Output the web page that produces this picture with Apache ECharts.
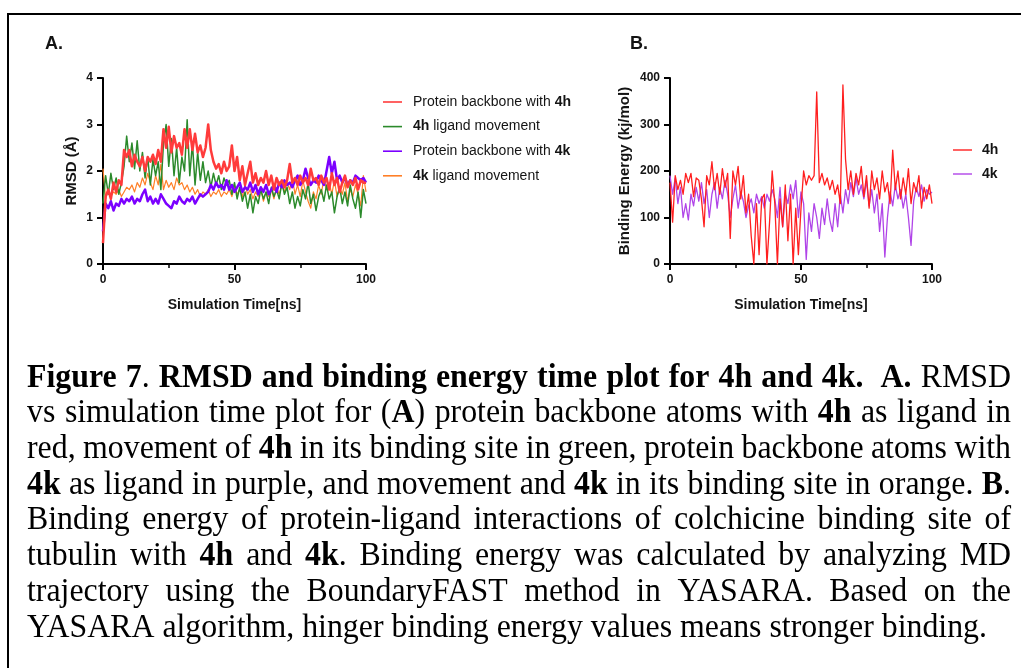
<!DOCTYPE html>
<html>
<head>
<meta charset="utf-8">
<script src="https://cdn.jsdelivr.net/npm/echarts@6/dist/echarts.min.js"></script>
<style>
  html, body { margin: 0; padding: 0; background: #fff; overflow: hidden; }
  #frame { position: absolute; left: 7px; top: 13px; width: 1100px; height: 800px; border: 2px solid #000; box-sizing: border-box; }
  #chart { position: absolute; left: 0; top: 0; width: 1021px; height: 668px; }
</style>
</head>
<body>
<div id="frame"></div>
<div id="chart"></div>
<script>
// Sampling: one frame per ns, 0..100 ns
const timeStepNs = 1;
const sampleCount = 101;

// Panel A: RMSD (Å)
const rmsdBackbone4h = [0.45,1.45,1.6,1.4,1.75,1.55,1.8,1.7,2.45,2.3,2.45,2.1,2.35,2.2,2.1,2.3,2.0,2.3,2.2,2.35,
  2.15,2.45,2.2,2.9,2.5,2.95,2.4,2.75,2.5,2.6,2.35,2.9,2.5,2.9,2.45,2.8,2.4,2.55,2.3,2.5,
  3.0,2.45,2.2,2.05,2.15,1.95,2.2,2.0,2.1,2.55,2.0,2.3,1.8,2.1,1.7,1.95,2.2,1.75,1.95,1.7,
  1.85,1.75,2.0,1.7,1.9,1.6,1.85,1.7,1.8,1.65,1.8,2.15,1.75,1.85,1.7,1.9,1.75,1.85,1.7,2.05,
  1.8,1.85,1.7,1.9,1.75,1.85,1.6,1.95,1.7,1.85,1.55,1.75,1.9,1.65,1.8,1.7,1.85,1.6,1.8,1.75,1.75];
const rmsdLigand4h = [1.3,1.9,1.5,1.95,1.6,1.85,1.5,1.75,2.1,2.75,2.2,2.6,2.05,2.65,2.0,2.4,1.85,2.3,1.7,2.25,
  1.9,2.2,1.6,2.6,3.0,2.1,2.7,1.9,2.5,1.75,2.3,2.0,3.1,1.9,2.6,1.7,2.4,1.8,2.2,1.75,
  2.0,1.65,1.95,1.7,1.9,1.6,1.85,1.7,1.8,1.5,1.75,1.4,1.65,1.35,1.55,1.2,1.5,1.1,1.45,1.3,
  1.6,1.4,1.55,1.3,1.65,1.45,1.6,1.4,1.75,1.5,1.65,1.3,1.55,1.2,1.45,1.25,1.6,1.4,1.75,1.3,
  1.5,1.15,1.45,1.6,1.35,1.7,1.4,1.55,1.1,1.45,1.65,1.3,1.55,1.25,1.7,1.4,1.2,1.55,1.0,1.6,1.3];
const rmsdBackbone4k = [0.7,1.3,1.2,1.35,1.15,1.3,1.25,1.4,1.3,1.4,1.35,1.45,1.3,1.4,1.35,1.5,1.6,1.35,1.45,1.3,
  1.4,1.3,1.5,1.4,1.3,1.25,1.2,1.35,1.3,1.45,1.35,1.3,1.4,1.35,1.45,1.3,1.4,1.5,1.45,1.5,
  1.55,1.7,1.6,1.75,1.65,1.7,1.6,1.8,1.6,1.7,1.55,1.65,1.75,1.55,1.65,1.6,1.75,1.55,1.7,1.5,
  1.65,1.55,1.7,1.5,1.6,1.7,1.55,1.75,1.65,1.8,1.7,1.75,1.65,1.8,1.9,1.7,1.8,2.05,1.85,1.7,
  1.8,1.75,1.9,1.8,1.7,2.0,2.3,1.95,2.2,1.8,1.9,1.75,1.85,1.7,1.8,1.75,1.9,1.85,1.8,1.85,1.75];
const rmsdLigand4k = [2.05,1.4,1.6,1.45,1.55,1.5,1.6,1.45,1.55,1.65,1.6,1.7,1.55,1.75,1.65,1.85,1.7,1.95,1.75,1.6,
  1.9,1.7,2.15,1.6,1.8,1.65,1.75,1.6,1.85,1.7,1.75,1.6,1.7,1.55,1.65,1.5,1.6,1.45,1.55,1.5,
  1.6,1.45,1.55,1.5,1.6,1.45,1.55,1.5,1.6,1.45,1.65,1.5,1.6,1.45,1.7,1.5,1.6,1.4,1.55,1.45,
  1.6,1.35,1.55,1.45,1.6,1.4,1.65,1.5,1.7,1.55,1.75,1.6,1.85,1.5,1.7,1.45,1.8,1.55,1.35,1.2,
  1.55,1.4,1.7,1.5,1.85,1.6,1.75,1.5,1.8,1.45,1.65,1.5,1.75,1.35,1.6,1.45,1.7,1.5,1.25,1.9,1.55];

// Panel B: binding energy (kj/mol)
const energy4h = [175,90,190,160,180,150,195,175,195,145,185,180,140,80,190,170,220,160,195,150,
  205,165,195,55,200,170,210,140,190,110,150,60,0,130,20,140,150,0,90,200,
  130,0,140,80,170,50,150,0,120,20,120,200,170,190,180,190,370,175,195,170,
  185,160,180,150,170,130,385,225,160,200,150,195,170,210,145,190,120,200,160,185,
  140,200,155,175,130,245,160,200,140,185,150,205,130,175,155,190,120,165,140,170,130];
const energy4k = [190,150,185,130,165,100,130,95,150,125,165,135,175,130,160,100,150,175,120,165,
  140,180,150,100,140,170,120,155,135,100,125,140,110,150,130,145,120,150,135,160,
  140,100,165,80,150,130,170,140,180,100,155,130,10,110,70,130,100,55,120,85,
  140,95,70,130,80,150,110,160,130,175,145,185,150,170,140,180,125,160,110,150,
  70,130,15,100,155,125,170,140,160,120,150,100,40,135,165,145,170,135,160,150,155];

// Axis ticks and labels
const timeTicks = { min: 0, max: 100, interval: 50 };
const rmsdTicks = { min: 0, max: 4, interval: 1 };
const energyTicks = { min: 0, max: 400, interval: 100 };
const legendNamesA = ['Protein backbone with 4h', '4h ligand movement', 'Protein backbone with 4k', '4k ligand movement'];
const legendNamesB = ['4h', '4k'];

// Figure caption (<b> marks bold runs)
const captionLines = [
  '<b>Figure 7</b>. <b>RMSD and binding energy time plot for 4h and 4k.\u00a0</b> <b>A.</b> RMSD',
  'vs simulation time plot for (<b>A</b>) protein backbone atoms with <b>4h</b> as ligand in',
  'red, movement of <b>4h</b> in its binding site in green, protein backbone atoms with',
  '<b>4k</b> as ligand in purple, and movement and <b>4k</b> in its binding site in orange. <b>B</b>.',
  'Binding energy of protein-ligand interactions of colchicine binding site of',
  'tubulin with <b>4h</b> and <b>4k</b>. Binding energy was calculated by analyzing MD',
  'trajectory using the BoundaryFAST method in YASARA. Based on the',
  'YASARA algorithm, hinger binding energy values means stronger binding.'
];

const timeNs = Array.from({ length: sampleCount }, (_, i) => i * timeStepNs);
const pairs = vals => vals.map((v, i) => [timeNs[i], v]);

const FONT = '"Liberation Sans", Arial, sans-serif';
const SERIF = '"Liberation Serif", "Times New Roman", serif';
const INK = '#141414';

function xAxisCfg(grid) {
  return {
    type: 'value', gridIndex: grid, min: timeTicks.min, max: timeTicks.max, interval: timeTicks.interval,
    name: 'Simulation Time[ns]', nameLocation: 'middle', nameGap: 34,
    nameTextStyle: { fontFamily: FONT, fontWeight: 'bold', fontSize: 14, color: INK },
    axisLine: { onZero: false, lineStyle: { color: '#000', width: 2 } },
    axisTick: { length: 6, lineStyle: { color: '#000', width: 2 } },
    minorTick: { show: true, splitNumber: 2, length: 4, lineStyle: { color: '#000', width: 1.5 } },
    splitLine: { show: false }, minorSplitLine: { show: false },
    axisLabel: { fontFamily: FONT, fontWeight: 'bold', fontSize: 12, color: INK, margin: 10 }
  };
}
function yAxisCfg(grid, ticks, name, gap) {
  return {
    type: 'value', gridIndex: grid, min: ticks.min, max: ticks.max, interval: ticks.interval,
    name: name, nameLocation: 'middle', nameGap: gap,
    nameTextStyle: { fontFamily: FONT, fontWeight: 'bold', fontSize: 15, color: INK },
    axisLine: { show: true, lineStyle: { color: '#000', width: 2 } },
    axisTick: { show: true, length: 6, lineStyle: { color: '#000', width: 2 } },
    splitLine: { show: false },
    axisLabel: { fontFamily: FONT, fontWeight: 'bold', fontSize: 12, color: INK, margin: 10 }
  };
}
function lineSeries(name, grid, vals, color, width, z) {
  return {
    type: 'line', name: name, xAxisIndex: grid, yAxisIndex: grid, data: pairs(vals),
    showSymbol: false, symbol: 'none', animation: false, z: z,
    lineStyle: { color: color, width: width, join: 'round' }, itemStyle: { color: color }
  };
}

// Caption layout: words measured on a canvas, lines justified to the block width
const CAP = { left: 27, right: 1011, firstY: 378, lineStep: 35.7, size: 33, lastWidth: 960 };
const measureCtx = document.createElement('canvas').getContext('2d');
function capFont(bold) { return (bold ? 'bold ' : '') + CAP.size + 'px ' + SERIF; }
function textWidth(t, bold) { measureCtx.font = capFont(bold); return measureCtx.measureText(t).width; }
function parseWords(line) {
  const words = []; let runs = []; let buf = ''; let bold = false;
  const flush = () => { if (buf) { runs.push({ text: buf, bold: bold }); buf = ''; } };
  line.split(/(<b>|<\/b>| )/).forEach(tok => {
    if (tok === '<b>') { flush(); bold = true; }
    else if (tok === '</b>') { flush(); bold = false; }
    else if (tok === ' ') { flush(); if (runs.length) { words.push(runs); runs = []; } }
    else buf += tok;
  });
  flush(); if (runs.length) words.push(runs);
  words.forEach(w => { w.width = w.reduce((s, r) => s + textWidth(r.text, r.bold), 0); });
  return words;
}
function captionGraphics() {
  const lines = captionLines.map(parseWords);
  const spaceW = textWidth(' ', false);
  const last = lines[lines.length - 1];
  const lastNatural = last.reduce((s, w) => s + w.width, 0) + spaceW * (last.length - 1);
  const sx = CAP.lastWidth / lastNatural;
  const out = [];
  lines.forEach((words, li) => {
    const sum = words.reduce((s, w) => s + w.width * sx, 0);
    const gap = li < lines.length - 1 ? (CAP.right - CAP.left - sum) / (words.length - 1) : spaceW * sx;
    let x = CAP.left;
    const y = CAP.firstY + li * CAP.lineStep;
    words.forEach(w => {
      let rx = x;
      w.forEach(r => {
        out.push({
          type: 'text', x: rx, y: y, scaleX: sx, silent: true,
          style: { text: r.text, font: capFont(r.bold), fill: '#000', align: 'left', verticalAlign: 'middle' }
        });
        rx += textWidth(r.text, r.bold) * sx;
      });
      x += w.width * sx + gap;
    });
  });
  return out;
}

const chart = echarts.init(document.getElementById('chart'), null, { renderer: 'canvas' });
chart.setOption({
  backgroundColor: 'transparent',
  animation: false,
  grid: [
    { left: 103, top: 78, width: 263, height: 186 },
    { left: 670, top: 78, width: 262, height: 186 }
  ],
  xAxis: [xAxisCfg(0), xAxisCfg(1)],
  yAxis: [
    yAxisCfg(0, rmsdTicks, 'RMSD (Å)', 24),
    yAxisCfg(1, energyTicks, 'Binding Energy (kj/mol)', 38)
  ],
  legend: [
    {
      data: legendNamesA, orient: 'vertical', left: 378, top: 90,
      icon: 'rect', itemWidth: 19, itemHeight: 1.6, itemGap: 10.6,
      formatter: n => n.replace(/(4[hk])/, '{b|$1}'),
      textStyle: {
        fontFamily: FONT, fontSize: 14, lineHeight: 14, color: INK, padding: [0, 0, 0, 6],
        rich: { b: { fontFamily: FONT, fontSize: 14, lineHeight: 14, fontWeight: 'bold', color: INK } }
      }
    },
    {
      data: legendNamesB, orient: 'vertical', left: 948, top: 138,
      icon: 'rect', itemWidth: 19, itemHeight: 1.4, itemGap: 10,
      textStyle: { fontFamily: FONT, fontSize: 14, lineHeight: 14, fontWeight: 'bold', color: INK, padding: [0, 0, 0, 5] }
    }
  ],
  graphic: [
    { type: 'text', left: 45, top: 35, style: { text: 'A.', font: 'bold 18px ' + FONT, fill: INK } },
    { type: 'text', left: 630, top: 35, style: { text: 'B.', font: 'bold 18px ' + FONT, fill: INK } },
    { type: 'group', id: 'caption', children: captionGraphics() }
  ],
  series: [
    lineSeries(legendNamesA[3], 0, rmsdLigand4k, '#ff7f27', 1.2, 2),
    lineSeries(legendNamesA[1], 0, rmsdLigand4h, '#2b8a2b', 1.5, 3),
    lineSeries(legendNamesA[2], 0, rmsdBackbone4k, '#7b00ff', 2.5, 4),
    lineSeries(legendNamesA[0], 0, rmsdBackbone4h, '#ff3b3b', 2.5, 5),
    lineSeries(legendNamesB[1], 1, energy4k, '#b044e8', 1.3, 2),
    lineSeries(legendNamesB[0], 1, energy4h, '#ff1f1f', 1.3, 3)
  ]
});
</script>
</body>
</html>
